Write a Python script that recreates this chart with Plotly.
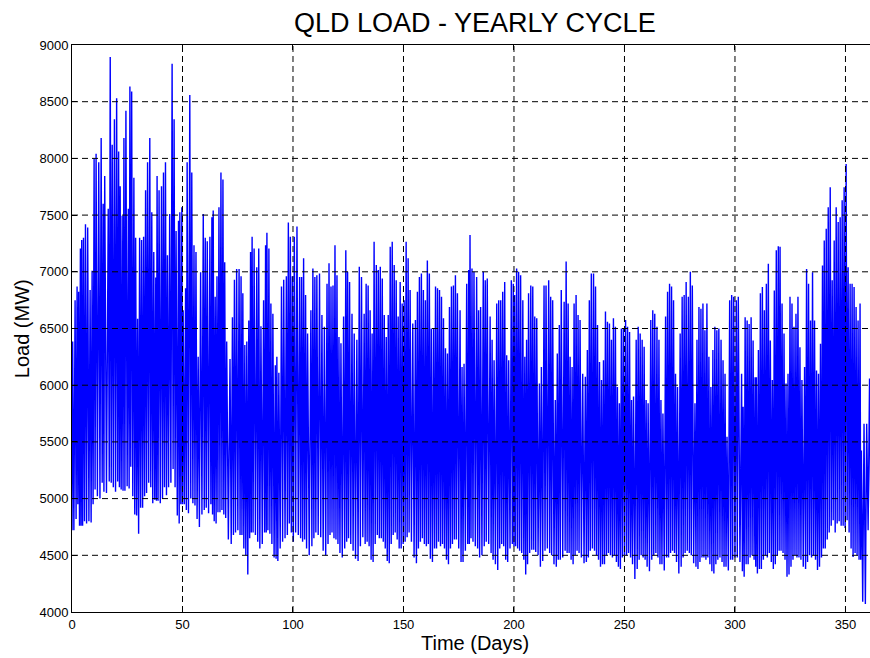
import plotly.graph_objects as go

# ---------------- data ----------------
# Daily peak loads: (time in days, load in MW)
peaks_jan_feb = [
    (0.3, 6385), (1.4, 6750), (2.3, 6870), (3.0, 6825), (3.8, 7205), (4.4, 7280),
    (5.2, 7300), (6.1, 7420), (7.1, 7390), (8.2, 6840), (9.1, 7010), (10.0, 8000),
    (10.9, 8040), (12.1, 7965), (13.2, 8180), (14.1, 7600), (14.8, 7845), (16.4, 7555),
    (17.3, 8895), (18.2, 8120), (19.2, 8345), (20.2, 8530), (21.1, 8060), (21.8, 7755),
    (22.7, 7495), (23.5, 8180), (24.4, 8420), (25.5, 7555), (26.2, 8635), (27.0, 8590),
    (28.0, 7830), (28.8, 7300), (29.7, 6585), (30.6, 7300), (31.5, 7280), (32.4, 7310),
    (33.3, 7720), (34.2, 7965), (35.2, 8180), (36.1, 7525), (37.0, 7175), (37.9, 6950),
    (38.5, 7845), (39.4, 7720), (40.5, 7755), (41.4, 7875), (42.3, 7965), (43.2, 7145),
    (44.2, 7510), (45.3, 8835), (46.2, 8345), (47.1, 7360), (48.2, 7450), (48.8, 7525),
    (49.7, 7570),
]
peaks_feb_apr = [
    (50.3, 6660), (51.4, 6855), (52.1, 7965), (53.3, 8560), (54.2, 7875), (55.2, 7235),
    (56.1, 7175), (57.1, 6250), (58.2, 6995), (59.4, 7510), (60.3, 7300), (61.2, 7270),
    (62.4, 7310), (63.3, 7480), (63.9, 7540), (64.8, 6780), (65.6, 6960), (66.5, 7570),
    (67.4, 7875), (68.3, 7815), (69.1, 7085), (70.0, 6385), (71.5, 6230), (72.6, 6600),
    (73.5, 6930), (74.5, 7025), (75.6, 7025), (76.5, 6960), (77.3, 6810), (78.2, 6355),
    (79.1, 6385), (80.0, 6570), (80.8, 7175), (81.5, 7310), (82.4, 7205), (83.6, 7040),
    (84.5, 7205), (85.5, 6520), (86.7, 6750), (87.6, 7235), (88.2, 7345), (89.1, 7205),
    (90.0, 6720), (90.9, 6630), (92.0, 6175), (92.7, 6250), (93.6, 6110), (94.8, 6870),
    (95.8, 6930), (97.0, 6960), (97.9, 7435), (98.8, 7310), (99.7, 6960),
]
peaks_apr_jul = [
    (100.6, 7310), (101.8, 7400), (103.0, 6955), (103.9, 6955), (104.8, 7120), (105.7, 6795),
    (106.6, 6455), (108.1, 6660), (109.0, 7030), (109.9, 6955), (110.8, 6970), (112.0, 6985),
    (113.1, 6620), (114.2, 6515), (115.4, 6895), (116.3, 7075), (117.2, 6870), (118.1, 6880),
    (119.0, 7235), (119.9, 6970), (120.8, 6425), (121.7, 6370), (122.9, 6605), (123.9, 7190),
    (124.7, 7000), (125.6, 6910), (126.7, 6630), (127.7, 6455), (128.9, 6400), (130.0, 7045),
    (131.0, 6955), (132.2, 6630), (133.1, 6895), (134.0, 6880), (134.9, 6660), (135.8, 6455),
    (136.7, 7265), (137.7, 7060), (138.6, 7015), (139.5, 7045), (140.4, 6940), (141.3, 6620),
    (142.2, 6425), (143.1, 6620), (144.0, 7220), (144.9, 7265), (145.8, 7060), (146.7, 6925),
    (147.6, 6605), (148.5, 6910), (149.4, 6720), (150.3, 6750), (151.2, 7265), (152.1, 7120),
    (153.0, 6840), (154.2, 6545), (155.4, 6575), (156.3, 6825), (157.2, 6955), (158.1, 6985),
    (159.0, 6840), (159.9, 6750), (160.8, 7100), (161.7, 6985), (162.6, 6500), (163.6, 6500),
    (164.5, 6870), (165.4, 6855), (166.3, 6840), (167.2, 6780), (168.1, 6590), (169.0, 6325),
    (169.9, 6280), (170.8, 6690), (171.7, 6870), (172.6, 6880), (173.5, 6970), (174.4, 6810),
    (175.6, 6660), (176.5, 6160), (177.4, 6190), (178.6, 6895), (179.5, 7015), (180.1, 7325),
    (181.0, 7030), (181.9, 7000), (183.1, 6955), (184.0, 6660), (184.9, 6690), (186.1, 7000),
    (187.0, 6925), (187.9, 6940), (189.2, 6605), (190.1, 6400), (191.0, 6220), (192.2, 6720),
    (193.1, 6750), (194.0, 6750), (194.9, 6825), (195.8, 6910), (196.7, 6265), (197.6, 6220),
    (198.8, 6925), (199.7, 6895),
]
peaks_jul_oct = [
    (200.3, 6795), (201.2, 7030), (202.1, 7000), (203.0, 6970), (204.0, 6750), (204.9, 6250),
    (205.7, 6400), (206.6, 6810), (207.6, 6880), (208.5, 6870), (209.4, 6605), (210.3, 6590),
    (211.5, 6015), (212.4, 6160), (213.6, 6880), (214.5, 6880), (215.7, 6925), (216.6, 6780),
    (217.5, 6750), (218.7, 5870), (219.6, 6280), (220.5, 6530), (221.4, 6840), (222.7, 6735),
    (223.6, 7090), (224.5, 6720), (225.4, 6250), (226.3, 6160), (227.2, 6720), (228.1, 6795),
    (229.0, 6620), (229.9, 6575), (231.1, 6100), (232.3, 6075), (233.2, 6310), (234.1, 6750),
    (235.0, 6985), (236.0, 6985), (236.9, 6870), (237.8, 6530), (238.7, 6205), (239.6, 6045),
    (240.5, 6220), (241.4, 6650), (242.3, 6560), (243.2, 6545), (244.1, 6400), (245.0, 6590),
    (245.9, 6515), (246.8, 5985), (247.7, 5840), (248.6, 6500), (249.5, 6500), (250.5, 6575),
    (251.4, 6515), (252.3, 6470), (253.2, 5870), (254.1, 5900), (255.3, 6400), (256.2, 6515),
    (257.1, 6455), (258.0, 6400), (258.9, 6340), (259.8, 5870), (260.7, 5840), (261.9, 6575),
    (262.8, 6660), (263.7, 6630), (264.7, 6515), (265.6, 6400), (266.5, 5870), (267.4, 5750),
    (268.6, 6605), (269.5, 6825), (270.4, 6895), (271.3, 6870), (272.2, 6750), (273.1, 6100),
    (274.0, 5985), (275.2, 6455), (276.1, 6780), (277.0, 6795), (277.9, 6910), (278.9, 6780),
    (279.8, 7000), (280.7, 6880), (281.9, 5840), (282.8, 6400), (283.7, 6690),
]
peaks_oct_dec = [
    (284.6, 6675), (285.5, 6720), (286.4, 6485), (287.3, 6720), (288.2, 6250), (289.1, 5985),
    (290.0, 6310), (290.9, 6515), (291.8, 6485), (292.7, 6500), (293.7, 6400), (294.6, 6220),
    (295.5, 6100), (296.4, 5545), (297.6, 6750), (298.5, 6795), (299.4, 6780), (300.6, 6750),
    (301.5, 6780), (303.0, 6100), (303.7, 5810), (304.6, 6600), (305.5, 6570), (306.4, 6540),
    (307.3, 6600), (308.2, 6395), (309.1, 6070), (309.7, 6070), (310.6, 6310), (311.5, 6810),
    (312.4, 6865), (313.3, 6660), (314.2, 6895), (315.1, 7070), (316.0, 6395), (316.9, 6045),
    (317.8, 6835), (318.7, 7190), (319.6, 7225), (320.4, 7220), (321.3, 6720), (322.2, 6455),
    (323.1, 6015), (324.0, 6100), (324.9, 6780), (325.8, 6720), (326.7, 6515), (327.6, 6630),
    (328.5, 6780), (329.4, 6335), (330.3, 6045), (331.5, 6160), (332.4, 7025), (333.3, 6895),
    (334.2, 6570), (335.1, 6995), (336.0, 6570), (336.9, 6130), (337.8, 6100), (338.7, 6365),
    (339.6, 7055), (340.4, 7275), (341.3, 7380), (342.2, 7570), (343.1, 7745), (344.0, 6925),
    (344.9, 7275), (345.8, 7570), (346.7, 7440), (347.6, 7480), (348.5, 7630), (349.4, 7745),
    (350.3, 7950), (351.2, 7040), (352.1, 6895), (353.0, 6895), (353.9, 6865), (354.8, 6690),
    (355.7, 6570), (356.6, 6720), (357.2, 5425), (358.4, 5660), (359.6, 5660), (360.9, 6060),
]

# Daily overnight minimum loads (MW), day 0 .. day 360
trough_mw = [
    4720, 4820, 4950, 4760, 4760, 4800, 4780, 4800, 4790, 4950,
    5080, 5020, 5000, 5140, 5060, 5050, 5150, 5140, 5100, 5060,
    5150, 5100, 5080, 5070, 5110, 5090, 5280, 5020, 4860, 4850,
    4690, 4920, 5020, 5050, 5140, 5100, 4960, 4990, 4980, 4960,
    5000, 5100, 5030, 5100, 5140, 5260, 5100, 4850, 4780, 4950,
    4950, 4900, 4870, 5000, 4960, 4940, 4820, 4750, 4860, 4900,
    4920, 4870, 4950, 4860, 4800, 4780, 4880, 4900, 4860, 4830,
    4640, 4570, 4600, 4680, 4700, 4720, 4680, 4560, 4500, 4330,
    4650, 4700, 4720, 4680, 4620, 4560, 4600, 4700, 4720, 4690,
    4600, 4480, 4470, 4450, 4560, 4620, 4650, 4680, 4780, 4700,
    4620, 4700, 4680, 4650, 4620, 4640, 4560, 4500, 4580, 4650,
    4700, 4680, 4660, 4540, 4500, 4600, 4680, 4700, 4650, 4640,
    4600, 4520, 4480, 4560, 4620, 4650, 4600, 4540, 4470, 4450,
    4580, 4660, 4600, 4620, 4580, 4460, 4440, 4600, 4680, 4650,
    4620, 4560, 4450, 4430, 4600, 4680, 4700, 4640, 4560, 4600,
    4620, 4660, 4700, 4620, 4480, 4430, 4560, 4620, 4650, 4600,
    4580, 4600, 4470, 4440, 4560, 4620, 4580, 4600, 4560, 4460,
    4420, 4560, 4600, 4640, 4600, 4560, 4440, 4400, 4540, 4600,
    4650, 4620, 4580, 4560, 4480, 4500, 4580, 4620, 4600, 4520,
    4460, 4420, 4370, 4560, 4600, 4580, 4460, 4440, 4560, 4600,
    4580, 4560, 4540, 4520, 4460, 4330, 4420, 4520, 4550, 4530,
    4500, 4400, 4255, 4450, 4540, 4560, 4520, 4500, 4420, 4400,
    4460, 4340, 4480, 4540, 4520, 4460, 4420, 4500, 4540, 4520,
    4480, 4430, 4440, 4480, 4540, 4560, 4540, 4500, 4460, 4400,
    4420, 4500, 4520, 4500, 4480, 4500, 4440, 4400, 4380, 4480,
    4500, 4520, 4480, 4420, 4290, 4380, 4460, 4500, 4480, 4460,
    4400, 4360, 4460, 4500, 4520, 4480, 4420, 4380, 4365, 4480,
    4520, 4540, 4520, 4440, 4340, 4400, 4480, 4520, 4540, 4520,
    4500, 4430, 4400, 4380, 4440, 4480, 4460, 4480, 4420, 4360,
    4340, 4420, 4460, 4480, 4440, 4400, 4380, 4365, 4460, 4500,
    4480, 4480, 4440, 4360, 4310, 4420, 4480, 4500, 4460, 4400,
    4340, 4380, 4460, 4500, 4480, 4520, 4440, 4380, 4420, 4500,
    4540, 4520, 4460, 4310, 4330, 4400, 4460, 4500, 4480, 4460,
    4400, 4380, 4440, 4500, 4480, 4500, 4460, 4370, 4400, 4480,
    4560, 4640, 4700, 4760, 4810, 4700, 4780, 4800, 4760, 4740,
    4810, 4700, 4560, 4485, 4520, 4500, 4460, 4090, 4060, 4070,
    4720,
]

x_ticks = [0, 50, 100, 150, 200, 250, 300, 350]
y_ticks = [4000, 4500, 5000, 5500, 6000, 6500, 7000, 7500, 8000, 8500, 9000]
x_range = [0, 361.1]
y_range = [4000, 9000]

title_text = "QLD LOAD - YEARLY CYCLE"
x_title = "Time (Days)"
y_title = "Load (MW)"

# ---------------- build the load trace ----------------
peaks = peaks_jan_feb + peaks_feb_apr + peaks_apr_jul + peaks_jul_oct + peaks_oct_dec
ndays = len(trough_mw)

t = [0.0]
load = [trough_mw[0]]
prev = None
for d, v in peaks:
    if prev is not None:
        mid = (prev + d) / 2.0
        t.append(mid)
        load.append(trough_mw[min(int(mid), ndays - 1)])
    t.append(d)
    load.append(v)
    prev = d
t.append(361.5)
load.append(trough_mw[-1])

fig = go.Figure()
fig.add_trace(go.Scatter(
    x=t, y=load, mode="lines",
    line=dict(color="#0000FF", width=1.4),
    hoverinfo="skip", showlegend=False,
))

FONT = "Liberation Sans, Arial, Helvetica, sans-serif"

# dashed grid drawn above the data (as in the original)
shapes = []
for xv in x_ticks[1:]:
    shapes.append(dict(type="line", xref="x", yref="paper", x0=xv, x1=xv, y0=0, y1=1,
                       line=dict(color="black", width=1, dash="6px,4px"), layer="above"))
for yv in y_ticks[1:-1]:
    shapes.append(dict(type="line", xref="paper", yref="y", x0=0, x1=1, y0=yv, y1=yv,
                       line=dict(color="black", width=1, dash="6px,4px"), layer="above"))

fig.update_layout(
    width=870, height=658,
    margin=dict(l=72, r=0, t=45, b=46),
    paper_bgcolor="white", plot_bgcolor="white",
    font=dict(family=FONT, color="black", size=13),
    shapes=shapes,
    showlegend=False,
    annotations=[
        dict(text=title_text, xref="paper", yref="paper", x=0.505, y=1.008,
             xanchor="center", yanchor="bottom", showarrow=False,
             font=dict(family=FONT, size=27, color="black")),
        dict(text=x_title, xref="paper", yref="paper", x=0.505, y=-0.031,
             xanchor="center", yanchor="top", showarrow=False,
             font=dict(family=FONT, size=20, color="black")),
        dict(text=y_title, xref="paper", yref="paper", x=-0.063, y=0.5,
             xanchor="center", yanchor="middle", textangle=-90, showarrow=False,
             font=dict(family=FONT, size=20, color="black")),
    ],
)
fig.update_xaxes(
    range=x_range, tickvals=x_ticks, ticktext=[str(v) for v in x_ticks],
    showgrid=False, zeroline=False,
    showline=True, linecolor="black", linewidth=1, mirror="ticks",
    ticks="inside", ticklen=5, tickcolor="black", layer="above traces",
    tickfont=dict(family=FONT, size=13, color="black"),
)
fig.update_yaxes(
    range=y_range, tickvals=y_ticks, ticktext=[str(v) for v in y_ticks],
    showgrid=False, zeroline=False,
    showline=True, linecolor="black", linewidth=1, mirror=False,
    ticks="inside", ticklen=5, tickcolor="black", layer="above traces",
    tickfont=dict(family=FONT, size=13, color="black"),
)

fig.write_html("out.html")
